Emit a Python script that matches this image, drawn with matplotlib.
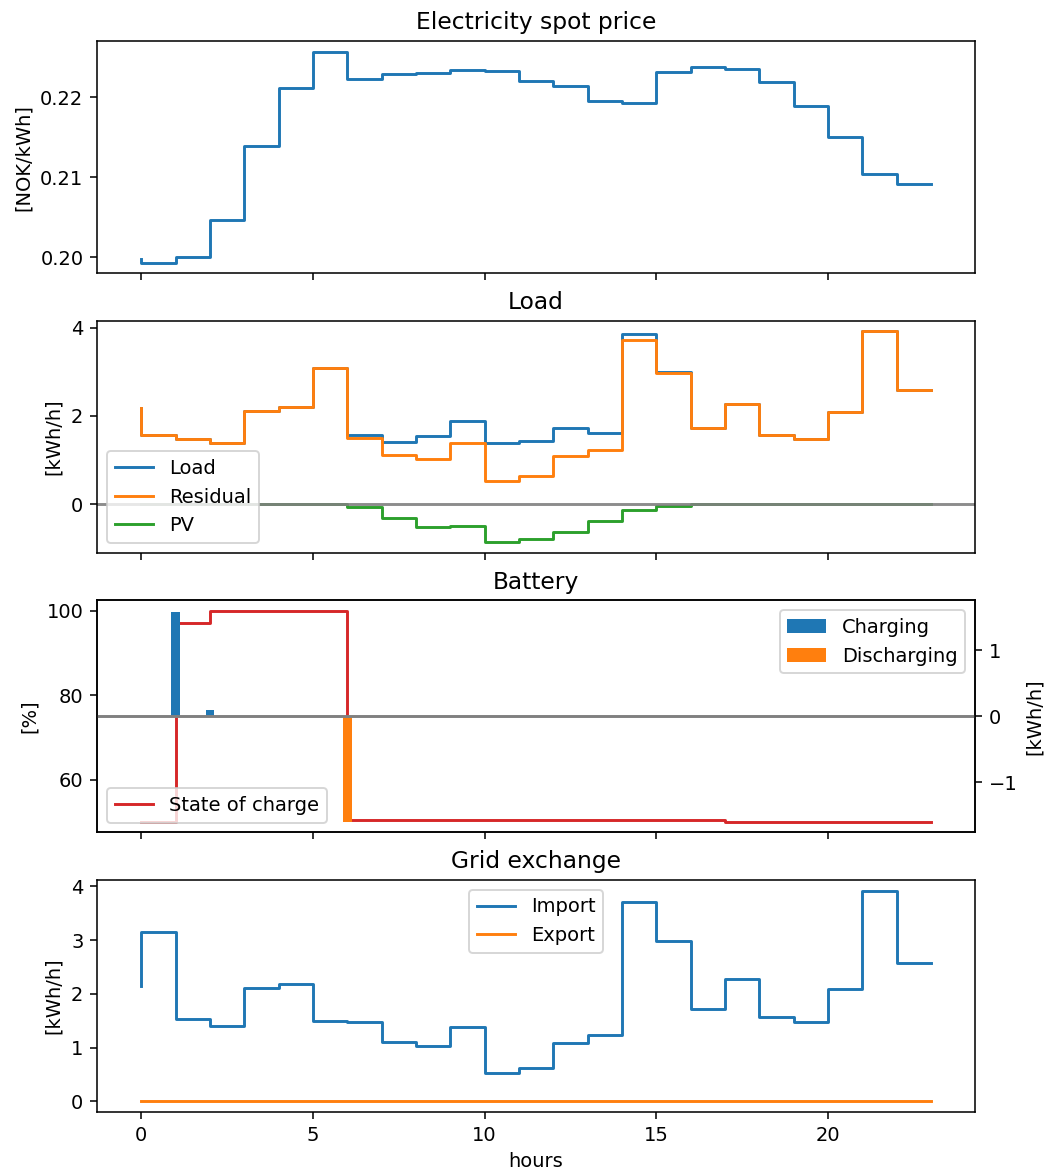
import numpy as np
import matplotlib
matplotlib.use("Agg")
import matplotlib.pyplot as plt

hours = np.arange(24)

spot_price = [0.19984, 0.19934, 0.20004, 0.20463, 0.21396, 0.22121, 0.22571, 0.22234,
              0.22292, 0.22300, 0.22341, 0.22325, 0.22204, 0.22141, 0.21959, 0.21934,
              0.22321, 0.22384, 0.22354, 0.22191, 0.21891, 0.21504, 0.21046, 0.20921]

load = [2.18, 1.56, 1.47, 1.39, 2.11, 2.20, 3.09, 1.56, 1.41, 1.54, 1.88, 1.39,
        1.43, 1.72, 1.62, 3.86, 2.99, 1.73, 2.28, 1.57, 1.48, 2.09, 3.92, 2.59]
pv = [0.0, 0.0, 0.0, 0.0, 0.0, 0.0, 0.0, -0.07, -0.30, -0.51, -0.50, -0.86,
      -0.79, -0.63, -0.38, -0.14, -0.04, -0.005, -0.003, 0.0, 0.0, 0.0, 0.0, 0.0]
residual = [2.18, 1.56, 1.47, 1.39, 2.11, 2.20, 3.09, 1.50, 1.11, 1.02, 1.39, 0.53,
            0.65, 1.09, 1.22, 3.72, 2.98, 1.73, 2.28, 1.57, 1.48, 2.09, 3.92, 2.59]

soc = [50.0, 50.0, 97.1, 100.0, 100.0, 100.0, 100.0, 50.4, 50.4, 50.4, 50.4, 50.4,
       50.4, 50.4, 50.4, 50.4, 50.4, 50.4, 50.0, 50.0, 50.0, 50.0, 50.0, 50.0]
charging = [0.0, 1.59, 0.09, 0.0, 0.0, 0.0, 0.0, 0.0, 0.0, 0.0, 0.0, 0.0,
            0.0, 0.0, 0.0, 0.0, 0.0, 0.0, 0.0, 0.0, 0.0, 0.0, 0.0, 0.0]
discharging = [0.0, 0.0, 0.0, 0.0, 0.0, 0.0, 1.60, 0.0, 0.0, 0.0, 0.0, 0.0,
               0.0, 0.0, 0.0, 0.0, 0.0, 0.0, 0.0, 0.0, 0.0, 0.0, 0.0, 0.0]

grid_import = [2.14, 3.14, 1.54, 1.40, 2.10, 2.18, 1.49, 1.48, 1.10, 1.03, 1.39, 0.52,
               0.63, 1.08, 1.23, 3.71, 2.98, 1.72, 2.28, 1.57, 1.48, 2.09, 3.92, 2.58]
grid_export = [0.0] * 24

fig, axes = plt.subplots(4, 1, figsize=(1049 / 140, 1174 / 140), dpi=140, sharex=True)
fig.subplots_adjust(left=0.0925, right=0.9295, top=0.965, bottom=0.0528, hspace=0.205)

# spot price
ax = axes[0]
ax.step(hours, spot_price)
ax.set_title("Electricity spot price")
ax.set_ylabel("[NOK/kWh]")

# load
ax = axes[1]
ax.step(hours, load, label="Load")
ax.step(hours, residual, label="Residual")
ax.step(hours, pv, label="PV")
ax.axhline(0, color="gray", alpha=0.9)
ax.set_title("Load")
ax.set_ylabel("[kWh/h]")
ax.legend(loc="lower left")

# battery
ax = axes[2]
ax.step(hours, soc, color="tab:red", label="State of charge")
ax.set_title("Battery")
ax.set_ylabel("[%]")
ax.legend(loc="lower left")
ax2 = ax.twinx()
ax2.bar(hours, charging, width=0.25, color="tab:blue", label="Charging")
ax2.bar(hours, -np.array(discharging), width=0.25, color="tab:orange", label="Discharging")
ax2.axhline(0, color="gray")
lim = 1.1 * max(max(charging), max(discharging))
ax2.set_ylim(-lim, lim)
ax2.set_ylabel("[kWh/h]")
ax2.legend(loc="upper right")

# grid exchange
ax = axes[3]
ax.step(hours, grid_import, label="Import")
ax.step(hours, grid_export, label="Export")
ax.set_title("Grid exchange")
ax.set_ylabel("[kWh/h]")
ax.set_xlabel("hours")
ax.legend(loc="upper center")

fig.savefig("out.png", dpi=140)
